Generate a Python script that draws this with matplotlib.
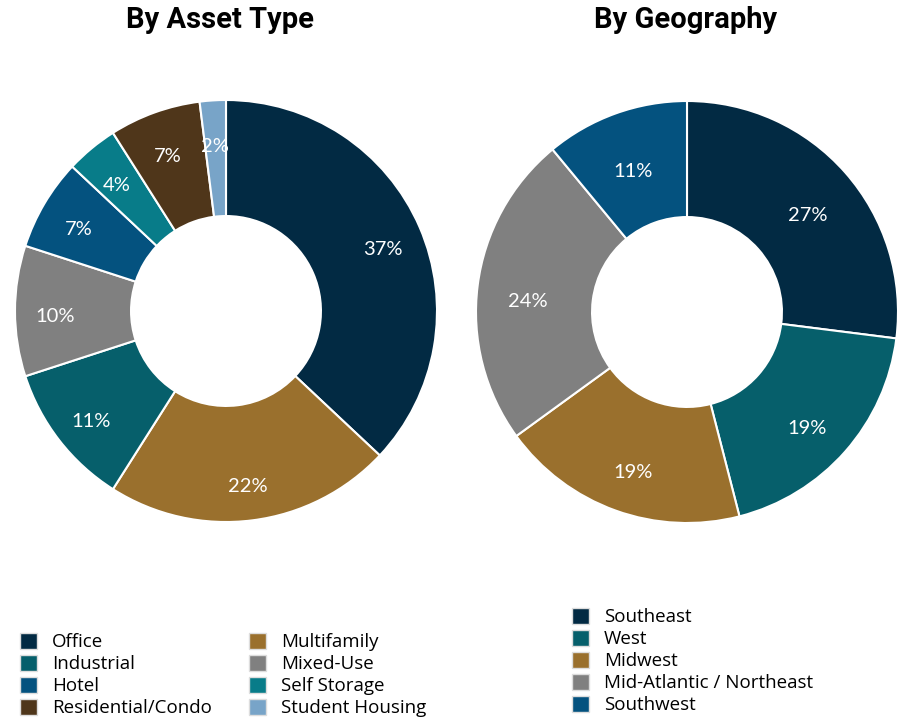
import matplotlib
matplotlib.use('Agg')
import numpy as np
import matplotlib.pyplot as plt
from matplotlib.patches import Patch

# Data
asset_labels = ['Office', 'Multifamily', 'Industrial', 'Mixed-Use', 'Hotel',
                'Self Storage', 'Residential/Condo', 'Student Housing']
asset_values = [37, 22, 11, 10, 7, 4, 7, 2]
asset_colors = ['#022a43', '#9a702d', '#065f6b', '#808080', '#04527f',
                '#087c89', '#4f361a', '#78a4c8']

geo_labels = ['Southeast', 'West', 'Midwest', 'Mid-Atlantic / Northeast', 'Southwest']
geo_values = [27, 19, 19, 24, 11]
geo_colors = ['#022a43', '#065f6b', '#9a702d', '#808080', '#04527f']

W, H = 900, 717
fig = plt.figure(figsize=(W / 100, H / 100), dpi=100)
plt.rcParams['font.family'] = ['Lato', 'DejaVu Sans']


def donut(cx, cy, r, values, colors, title, title_x, lab_r, lab_dy):
    ax = fig.add_axes([(cx - r) / W, (H - cy - r) / H, 2 * r / W, 2 * r / H])
    wedges, texts = ax.pie(values, colors=colors, startangle=90, counterclock=False,
                           radius=1.0,
                           wedgeprops=dict(width=0.55, edgecolor='white', linewidth=1.5))
    for w, v in zip(wedges, values):
        ang = np.deg2rad((w.theta1 + w.theta2) / 2)
        ax.annotate(f'{v}%', (lab_r * np.cos(ang), lab_r * np.sin(ang)),
                    xytext=(0, lab_dy), textcoords='offset pixels',
                    ha='center', va='center', color='white', fontsize=14.5,
                    family=['Lato', 'DejaVu Sans'])
    ax.set_xlim(-1.0, 1.0)
    ax.set_ylim(-1.0, 1.0)
    ax.set_aspect('equal')
    fig.text(title_x / W, 1 - 20 / H, title, ha='center', va='center',
             fontsize=21, fontweight='bold', family=['Roboto', 'DejaVu Sans'])
    return ax


donut(226, 311, 211, asset_values, asset_colors, 'By Asset Type', 220, 0.81, -6)
donut(687, 312, 211, geo_values, geo_colors, 'By Geography', 686, 0.76, -10)

legend_font = {'family': ['Open Sans', 'DejaVu Sans'], 'size': 13.5}

# Legends
order = [0, 2, 4, 6, 1, 3, 5, 7]
asset_handles = [Patch(facecolor=asset_colors[i], edgecolor='#dddddd', label=asset_labels[i])
                 for i in order]
fig.legend(handles=asset_handles, loc='upper left', bbox_to_anchor=(20 / W, 1 - 633 / H),
           ncol=2, frameon=False, handlelength=0.9, handleheight=0.9,
           handletextpad=0.8, labelspacing=0.2, columnspacing=2.0, borderpad=0,
           borderaxespad=0, prop=legend_font)

geo_handles = [Patch(facecolor=c, edgecolor='#dddddd', label=l)
               for l, c in zip(geo_labels, geo_colors)]
fig.legend(handles=geo_handles, loc='upper left', bbox_to_anchor=(572 / W, 1 - 608 / H),
           ncol=1, frameon=False, handlelength=0.9, handleheight=0.9,
           handletextpad=0.8, labelspacing=0.2, borderpad=0,
           borderaxespad=0, prop=legend_font)

fig.savefig('out.png', dpi=100, facecolor='white')
